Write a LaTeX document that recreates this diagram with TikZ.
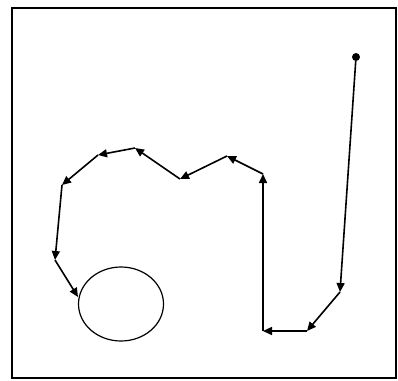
\documentclass[tikz,border=0pt]{standalone}
\usetikzlibrary{arrows.meta, shapes.geometric}

\begin{document}
\begin{tikzpicture}[x=1pt, y=-1pt,
    frame/.style={draw, line width=1.8pt},
    track/.style={draw, line width=1.6pt, line join=round, -{Triangle[length=9pt, width=8pt]}},
    startdot/.style={circle, fill, inner sep=0pt, minimum size=8pt},
    ring/.style={draw, ellipse, line width=1.2pt, minimum width=85pt, minimum height=74pt, inner sep=0pt}]

\useasboundingbox (0,0) rectangle (398,380);
\draw[frame] (12,8) rectangle (396,378);

\node[startdot] (start) at (356,57) {};
\coordinate (p1) at (340,292);
\coordinate (p2) at (307,331);
\coordinate (p3) at (263,331);
\coordinate (p4) at (263,174);
\coordinate (p5) at (227,156);
\coordinate (p6) at (180,179);
\coordinate (p7) at (135,148);
\coordinate (p8) at (98,155);
\coordinate (p9) at (62,185);
\coordinate (p10) at (55,260);
\coordinate (p11) at (78,297);
\node[ring] (loop) at (121,304) {};

\draw[track] (start) -- (p1);
\draw[track] (p1) -- (p2);
\draw[track] (p2) -- (p3);
\draw[track] (p3) -- (p4);
\draw[track] (p4) -- (p5);
\draw[track] (p5) -- (p6);
\draw[track] (p6) -- (p7);
\draw[track] (p7) -- (p8);
\draw[track] (p8) -- (p9);
\draw[track] (p9) -- (p10);
\draw[track] (p10) -- (p11);
\end{tikzpicture}
\end{document}
